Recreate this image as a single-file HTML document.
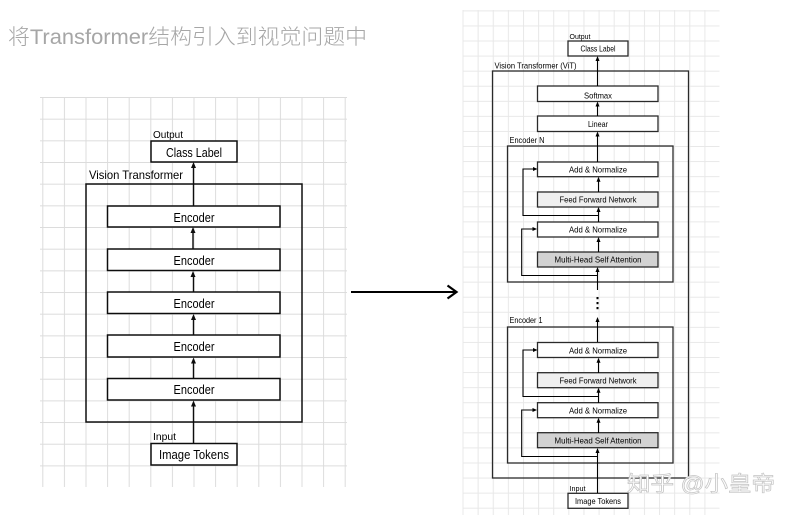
<!DOCTYPE html>
<html>
<head>
<meta charset="utf-8">
<style>
html,body{margin:0;padding:0;background:#fff;width:794px;height:516px;overflow:hidden}
svg{display:block}
text{font-family:"Liberation Sans","Noto Sans CJK SC",sans-serif}
</style>
</head>
<body>
<svg width="794" height="516" viewBox="0 0 794 516" xmlns="http://www.w3.org/2000/svg">
<defs>
<pattern id="gl" x="42.3" y="97" width="21.6" height="21.67" patternUnits="userSpaceOnUse">
<path d="M0.5 0V21.67M0 0.5H21.6" stroke="#dcdcdc" stroke-width="1" fill="none"/>
</pattern>
<pattern id="gr" x="462.5" y="10.4" width="15.12" height="15.07" patternUnits="userSpaceOnUse">
<path d="M0.5 0V15.07M0 0.5H15.12" stroke="#e8e8e8" stroke-width="1" fill="none"/>
</pattern>
<filter id="b1" x="-5%" y="-5%" width="110%" height="110%"><feGaussianBlur stdDeviation="0.25"/></filter>
<filter id="b2" x="-5%" y="-5%" width="110%" height="110%"><feGaussianBlur stdDeviation="0.35"/></filter>
</defs>

<text x="8" y="44" font-size="21" font-weight="300" fill="#a6a6a6" textLength="359" lengthAdjust="spacingAndGlyphs">将Transformer结构引入到视觉问题中</text>

<g filter="url(#b1)">
<rect x="40" y="97" width="307" height="390" fill="url(#gl)"/>
<g fill="#fff" stroke="#111" stroke-width="1.5">
<rect x="86" y="184" width="216" height="238" fill="none"/>
<rect x="151" y="141" width="86" height="21"/>
<rect x="107.5" y="206" width="172.5" height="21"/>
<rect x="107.5" y="249" width="172.5" height="21.5"/>
<rect x="107.5" y="292" width="172.5" height="21.5"/>
<rect x="107.5" y="335" width="172.5" height="22"/>
<rect x="107.5" y="378.5" width="172.5" height="21.5"/>
<rect x="151" y="443.5" width="86" height="21.5"/>
</g>
<g stroke="#111" stroke-width="1.4" fill="none">
<path d="M193.5 443V405M193.5 206V167M193 249V232M193.5 292V275M193.5 335V318M193.5 378V361"/>
</g>
<g fill="#111">
<path d="M193.5 162l-2.5 6h5zM193 227l-2.5 6h5zM193 271l-2.5 6h5zM193.5 314l-2.5 6h5zM193.5 357.5l-2.5 6h5zM193.5 400.5l-2.5 6h5z"/>
</g>
<g fill="#000" font-size="12.5" text-anchor="middle">
<text x="194" y="157" textLength="56" lengthAdjust="spacingAndGlyphs">Class Label</text>
<text x="194" y="222" textLength="41" lengthAdjust="spacingAndGlyphs">Encoder</text>
<text x="194" y="265" textLength="41" lengthAdjust="spacingAndGlyphs">Encoder</text>
<text x="194" y="308" textLength="41" lengthAdjust="spacingAndGlyphs">Encoder</text>
<text x="194" y="351" textLength="41" lengthAdjust="spacingAndGlyphs">Encoder</text>
<text x="194" y="394" textLength="41" lengthAdjust="spacingAndGlyphs">Encoder</text>
<text x="194" y="459" textLength="70" lengthAdjust="spacingAndGlyphs">Image Tokens</text>
</g>
<g fill="#000">
<text x="89" y="179" font-size="12" textLength="94" lengthAdjust="spacingAndGlyphs">Vision Transformer</text>
<text x="153" y="138" font-size="10" textLength="30" lengthAdjust="spacingAndGlyphs">Output</text>
<text x="153" y="440" font-size="10" textLength="23" lengthAdjust="spacingAndGlyphs">Input</text>
</g>
</g>

<g stroke="#000" stroke-width="2" fill="none">
<path d="M351 292H456"/>
<path d="M447.5 285.5L456.5 292L447.5 298.5" stroke-width="2.2"/>
</g>

<g filter="url(#b2)">
<rect x="462.5" y="10" width="257" height="505" fill="url(#gr)"/>
<g fill="#fff" stroke="#2a2a2a" stroke-width="1.3">
<rect x="492.5" y="71" width="196" height="407" fill="none"/>
<rect x="507.5" y="146" width="165.5" height="136" fill="none"/>
<rect x="507.5" y="327" width="165.5" height="136" fill="none"/>
<rect x="568" y="41" width="60" height="15"/>
<rect x="537.5" y="86" width="120.5" height="15.5"/>
<rect x="537.5" y="116" width="120.5" height="15.5"/>
<rect x="537.5" y="162" width="120.5" height="14.7"/>
<rect x="537.5" y="192" width="120.5" height="15" fill="#efefef"/>
<rect x="537.5" y="222" width="120.5" height="15"/>
<rect x="537.5" y="252" width="120.5" height="15" fill="#d2d2d2"/>
<rect x="537.5" y="342.5" width="120.5" height="15"/>
<rect x="537.5" y="372.7" width="120.5" height="15" fill="#efefef"/>
<rect x="537.5" y="402.7" width="120.5" height="15"/>
<rect x="537.5" y="432.7" width="120.5" height="15" fill="#d2d2d2"/>
<rect x="568" y="493.3" width="60" height="15"/>
</g>
<g stroke="#000" stroke-width="1.1" fill="none">
<path d="M597.5 86V60M597.5 116V106M597.5 162V135"/>
<path d="M598.5 192V181M598.5 222V211M598.5 252V241"/>
<path d="M597.5 290V271"/>
<path d="M597.5 342V322"/>
<path d="M598.5 373V362M598.5 403V392M598.5 433V422"/>
<path d="M597.5 493V452"/>
<path d="M598.5 215.5H523V169H534M597.5 275.5H521.7V229H533"/>
<path d="M598.5 396.5H523V350H534M597.5 456.5H521.7V410H533"/>
</g>
<g fill="#000">
<path d="M597.5 56l-2 5h4zM597.5 101.5l-2 5h4zM597.5 131.5l-2 5h4z"/>
<path d="M598.5 176.7l-2 5h4zM598.5 207l-2 5h4zM598.5 237l-2 5h4zM597.5 267l-2 5h4z"/>
<path d="M597.5 317l-2 5h4zM598.5 357.7l-2 5h4zM598.5 387.7l-2 5h4zM598.5 417.7l-2 5h4zM597.5 448l-2 5h4z"/>
<path d="M537.5 169l-4.5-2v4zM537 229l-4.5-2v4zM537.5 350l-4.5-2v4zM537 410l-4.5-2v4z"/>
<rect x="596.5" y="297" width="2" height="2.2"/>
<rect x="596.5" y="302" width="2" height="2.2"/>
<rect x="596.5" y="307" width="2" height="2.2"/>
</g>
<g fill="#000" font-size="8.2" text-anchor="middle">
<text x="598" y="51.5" textLength="35" lengthAdjust="spacingAndGlyphs">Class Label</text>
<text x="598" y="98.500" textLength="28" lengthAdjust="spacingAndGlyphs">Softmax</text>
<text x="598" y="127" textLength="20" lengthAdjust="spacingAndGlyphs">Linear</text>
<text x="598" y="172.500" textLength="58" lengthAdjust="spacingAndGlyphs">Add &amp; Normalize</text>
<text x="598" y="202.500" textLength="77" lengthAdjust="spacingAndGlyphs">Feed Forward Network</text>
<text x="598" y="232.500" textLength="58" lengthAdjust="spacingAndGlyphs">Add &amp; Normalize</text>
<text x="598" y="262.500" textLength="87" lengthAdjust="spacingAndGlyphs">Multi-Head Self Attention</text>
<text x="598" y="353.500" textLength="58" lengthAdjust="spacingAndGlyphs">Add &amp; Normalize</text>
<text x="598" y="383.500" textLength="77" lengthAdjust="spacingAndGlyphs">Feed Forward Network</text>
<text x="598" y="413.500" textLength="58" lengthAdjust="spacingAndGlyphs">Add &amp; Normalize</text>
<text x="598" y="443.500" textLength="87" lengthAdjust="spacingAndGlyphs">Multi-Head Self Attention</text>
<text x="598" y="504" textLength="46" lengthAdjust="spacingAndGlyphs">Image Tokens</text>
</g>
<g fill="#000">
<text x="494.500" y="68.500" font-size="8.500" textLength="82" lengthAdjust="spacingAndGlyphs">Vision Transformer (ViT)</text>
<text x="509.500" y="143" font-size="8" textLength="35" lengthAdjust="spacingAndGlyphs">Encoder N</text>
<text x="509.500" y="323" font-size="8" textLength="33" lengthAdjust="spacingAndGlyphs">Encoder 1</text>
<text x="569.500" y="39" font-size="7" textLength="21" lengthAdjust="spacingAndGlyphs">Output</text>
<text x="569.500" y="491" font-size="7" textLength="16" lengthAdjust="spacingAndGlyphs">Input</text>
</g>
</g>

<text x="627" y="491" font-size="21" fill="#fff" stroke="#c4c4c4" stroke-width="0.7" textLength="148" lengthAdjust="spacingAndGlyphs" filter="url(#b1)">知乎 @小皇帝</text>
</svg>
</body>
</html>
